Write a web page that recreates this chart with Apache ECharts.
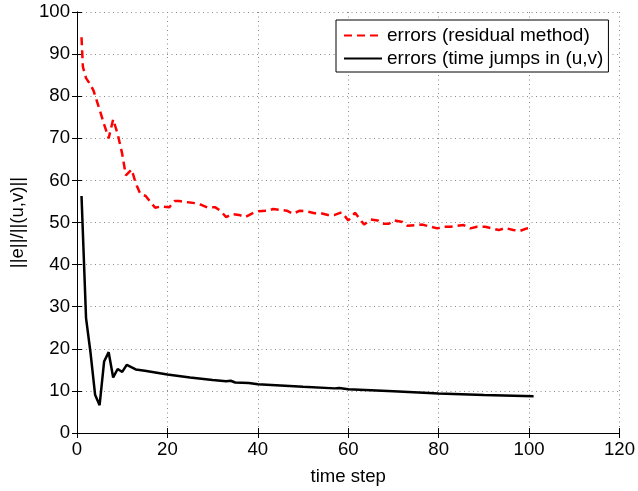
<!DOCTYPE html>
<html>
<head>
<meta charset="utf-8">
<script src="https://cdn.jsdelivr.net/npm/echarts@6/dist/echarts.min.js"></script>
<style>html,body{margin:0;padding:0;background:#fff;}#c{width:638px;height:491px;}</style>
</head>
<body>
<div id="c"></div>
<script>
const xTicks = [0, 20, 40, 60, 80, 100, 120];
const yTicks = [0, 10, 20, 30, 40, 50, 60, 70, 80, 90, 100];
const seriesNames = ['errors (residual method)', 'errors (time jumps in (u,v)'];
const redX = [1,1.3,2,3,3.7,5,6,7,8,9,10,10.8,12.1,13,14,15.2,16.3,17.3,18.5,20.4,21.6,22.6,24.6,26,27.5,28.8,30.6,31.7,33,34.3,35.8,37.2,39,40.2,42.2,43.4,44.9,46.4,47.8,49.3,51,52.6,54,55.5,57,58.5,59.5,60,61.5,63.5,65,66.5,67.6,69,70.2,72,73.1,75,76.4,78.2,79.7,81.2,82.6,84,85.5,87,88.5,90.3,91.8,93.3,94.7,96.5,98,99.5,100.5];
const redY = [94,87,84.3,82.7,81.2,76.8,73.3,70,74.5,71,66.3,61.2,62.6,59.3,56.8,56.3,54.8,53.5,53.8,53.6,55.1,55.1,54.8,54.6,54.2,53.6,53.6,52.8,51.3,52,51.8,51.3,52.3,52.7,52.8,53.2,53,52.8,52.1,52.8,52.6,52.2,52.2,51.8,51.8,52.4,51.2,50.5,52.3,49.5,50.7,50.5,49.7,49.7,50.5,50.1,49.2,49.4,49.5,49,48.6,49,49,49.2,49.4,48.6,49,49,48.6,48.2,48.7,48.2,48,48.6,48.7];
const blackX = [1,2,3,4,5,6,7,8,9,10,11,13,15,20,25,30,33,34,35,38,40,45,50,57,58,60,70,80,90,101];
const blackY = [56.3,27.3,19,9.1,6.6,17,19.2,13.2,15.2,14.5,16.2,15.1,14.8,13.9,13.2,12.6,12.3,12.4,12.0,11.9,11.6,11.3,11.0,10.6,10.7,10.4,9.9,9.4,9.0,8.7];

const zip = (a, b) => a.map((v, i) => [v, b[i]]);
const FONT = 'Liberation Sans, Arial, Helvetica, sans-serif';
const gridLine = { show: true, lineStyle: { color: '#8a8a8a', width: 1, type: [1, 3.5] } };

const chart = echarts.init(document.getElementById('c'), null, { renderer: 'canvas' });
chart.setOption({
  animation: false,
  backgroundColor: '#fff',
  grid: { left: 74, right: 17, top: 12, bottom: 48, containLabel: false },
  legend: {
    data: seriesNames,
    orient: 'vertical',
    left: 336, top: 20,
    padding: [6, 5, 4, 7],
    itemWidth: 38, itemHeight: 16, itemGap: 4,
    backgroundColor: '#fff', borderColor: '#000', borderWidth: 1, borderRadius: 0,
    itemStyle: { opacity: 0 },
    textStyle: { fontFamily: FONT, fontSize: 19, color: '#000' }
  },
  xAxis: [{
    type: 'value', min: xTicks[0], max: xTicks[xTicks.length - 1], interval: 20,
    name: 'time step', nameLocation: 'middle', nameGap: 34,
    nameTextStyle: { fontFamily: FONT, fontSize: 18.6, color: '#000' },
    axisLine: { show: true, lineStyle: { color: '#000', width: 1 } },
    axisTick: { show: true, inside: true, length: 5, lineStyle: { color: '#000' } },
    axisLabel: { fontFamily: FONT, fontSize: 18.6, color: '#000', margin: 7 },
    splitLine: gridLine
  }, {
    type: 'value', position: 'top', min: xTicks[0], max: xTicks[xTicks.length - 1], interval: 20,
    axisLine: { show: true, lineStyle: { color: '#000', width: 1 } },
    axisTick: { show: true, inside: true, length: 5, lineStyle: { color: '#000' } },
    axisLabel: { show: false }, splitLine: { show: false }
  }],
  yAxis: [{
    type: 'value', min: yTicks[0], max: yTicks[yTicks.length - 1], interval: 10,
    name: '||e||/||(u,v)||', nameLocation: 'middle', nameGap: 50, nameRotate: 90,
    nameTextStyle: { fontFamily: FONT, fontSize: 18.6, color: '#000' },
    axisLine: { show: true, lineStyle: { color: '#000', width: 1 } },
    axisTick: { show: true, inside: true, length: 5, lineStyle: { color: '#000' } },
    axisLabel: { fontFamily: FONT, fontSize: 18.6, color: '#000', margin: 7 },
    splitLine: gridLine
  }, {
    type: 'value', position: 'right', min: yTicks[0], max: yTicks[yTicks.length - 1], interval: 10,
    axisLine: { show: true, lineStyle: { color: '#000', width: 1 } },
    axisTick: { show: true, inside: true, length: 5, lineStyle: { color: '#000' } },
    axisLabel: { show: false }, splitLine: { show: false }
  }],
  series: [{
    name: seriesNames[0], type: 'line', data: zip(redX, redY),
    symbol: 'none', smooth: false,
    lineStyle: { color: '#ff0000', width: 2.5, type: [8, 5] },
    itemStyle: { color: '#ff0000' }
  }, {
    name: seriesNames[1], type: 'line', data: zip(blackX, blackY),
    symbol: 'none', smooth: false,
    lineStyle: { color: '#000', width: 2.5, type: 'solid' },
    itemStyle: { color: '#000' }
  }]
});
</script>
</body>
</html>
